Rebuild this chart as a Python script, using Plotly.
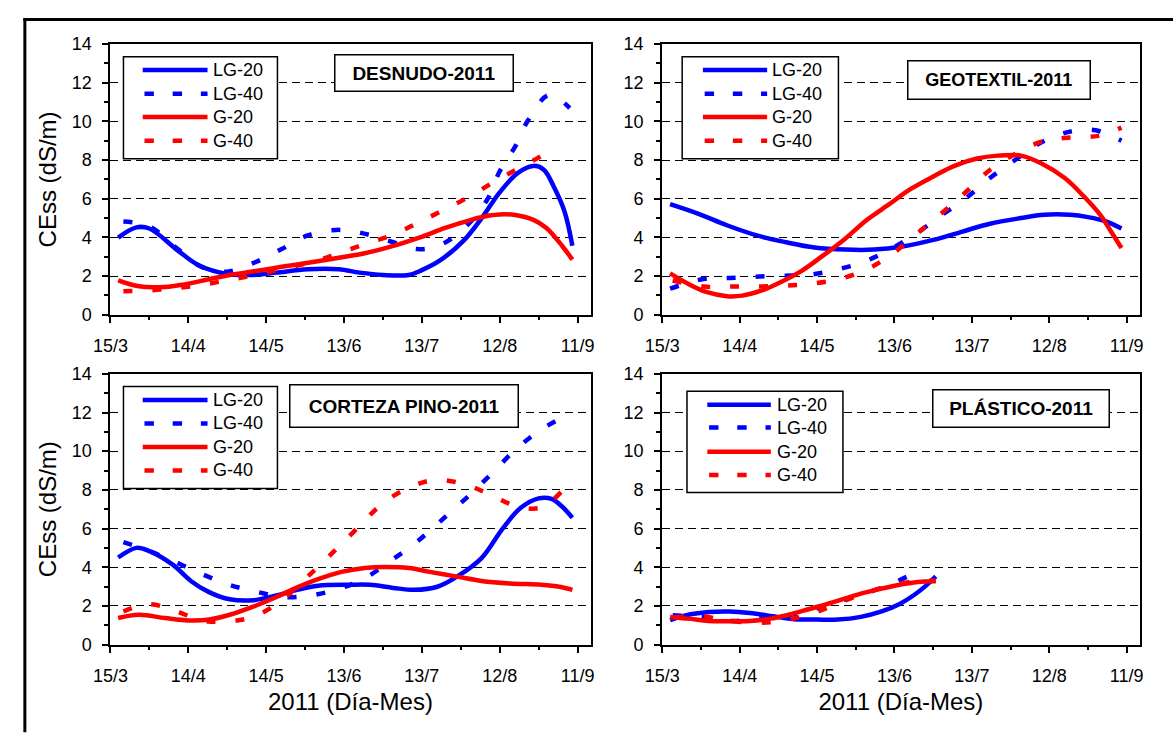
import pandas as pd
import plotly.graph_objects as go

BASE = pd.Timestamp("2011-03-15")

# ---- data: days after 15/3/2011 and CEss values (dS/m) ----
# DESNUDO-2011
des_lg20_d = [3, 10, 15, 26, 34, 45, 55, 64, 76, 88, 96, 105, 115, 120, 127, 136, 143, 150, 157, 163, 167, 171, 175, 178]
des_lg20_v = [3.99, 4.52, 4.46, 3.32, 2.56, 2.11, 2.06, 2.18, 2.35, 2.35, 2.18, 2.06, 2.06, 2.31, 2.81, 3.82, 4.99, 6.33, 7.34, 7.70, 7.50, 6.58, 5.33, 3.57]
des_lg40_d = [5, 15, 26, 35, 45, 56, 66, 76, 87, 97, 108, 118, 127, 137, 145, 150, 156, 161, 169, 177]
des_lg40_v = [4.82, 4.57, 3.40, 2.48, 2.23, 2.73, 3.40, 4.10, 4.39, 4.22, 3.79, 3.40, 3.60, 4.57, 5.91, 7.42, 8.71, 10.07, 11.36, 10.69]
des_g20_d = [3, 11, 21, 28, 38, 46, 56, 66, 78, 88, 98, 108, 119, 129, 139, 146, 150, 156, 163, 168, 174, 178]
des_g20_v = [1.78, 1.47, 1.44, 1.56, 1.84, 2.06, 2.26, 2.48, 2.73, 2.95, 3.18, 3.52, 3.99, 4.49, 4.91, 5.13, 5.19, 5.16, 4.91, 4.49, 3.57, 2.85]
des_g40_d = [5, 16, 26, 36, 46, 56, 67, 78, 88, 98, 109, 119, 129, 139, 149, 160, 171]
des_g40_v = [1.22, 1.27, 1.39, 1.56, 1.81, 2.06, 2.40, 2.73, 3.18, 3.65, 4.15, 4.79, 5.46, 6.16, 6.97, 7.76, 8.59]

# GEOTEXTIL-2011
geo_lg20_d = [3, 14, 25, 37, 48, 59, 71, 82, 93, 105, 116, 127, 139, 148, 158, 165, 172, 178]
geo_lg20_v = [5.72, 5.22, 4.63, 4.09, 3.75, 3.48, 3.37, 3.37, 3.53, 3.87, 4.29, 4.71, 5.00, 5.17, 5.17, 5.05, 4.83, 4.46]
geo_lg40_d = [3, 16, 26, 36, 47, 57, 67, 78, 88, 98, 108, 118, 127, 137, 147, 158, 168, 178]
geo_lg40_v = [1.35, 1.85, 1.90, 1.97, 2.02, 2.07, 2.32, 2.73, 3.37, 4.16, 5.13, 6.06, 7.07, 8.03, 8.92, 9.47, 9.54, 9.00]
geo_g20_d = [3, 10, 17, 25, 31, 38, 45, 54, 62, 71, 79, 88, 96, 105, 113, 122, 130, 139, 147, 156, 163, 170, 174, 178]
geo_g20_v = [2.14, 1.60, 1.18, 0.96, 0.99, 1.23, 1.63, 2.27, 3.03, 3.95, 4.88, 5.72, 6.48, 7.15, 7.69, 8.08, 8.23, 8.23, 7.82, 7.07, 6.18, 5.13, 4.29, 3.45]
geo_g40_d = [4, 16, 26, 36, 47, 57, 68, 78, 88, 98, 108, 118, 127, 137, 147, 158, 169, 178]
geo_g40_v = [1.77, 1.46, 1.46, 1.46, 1.50, 1.60, 1.83, 2.27, 3.03, 4.12, 5.22, 6.39, 7.49, 8.33, 8.95, 9.17, 9.25, 9.68]

# CORTEZA PINO-2011
cor_lg20_d = [3, 10, 15, 24, 31, 38, 46, 55, 64, 72, 80, 92, 100, 109, 117, 126, 134, 143, 151, 158, 165, 170, 174, 178]
cor_lg20_v = [4.50, 5.00, 4.83, 4.13, 3.29, 2.71, 2.34, 2.29, 2.54, 2.83, 3.04, 3.09, 3.09, 2.93, 2.83, 2.99, 3.55, 4.47, 5.97, 7.06, 7.56, 7.53, 7.14, 6.56]
cor_lg40_d = [5, 15, 26, 36, 46, 57, 66, 77, 88, 98, 108, 118, 127, 137, 147, 156, 166, 176]
cor_lg40_v = [5.30, 4.83, 4.21, 3.60, 3.08, 2.71, 2.46, 2.54, 2.88, 3.43, 4.33, 5.30, 6.36, 7.56, 8.85, 10.07, 11.12, 11.86]
cor_g20_d = [3, 11, 21, 30, 38, 46, 55, 64, 72, 80, 89, 98, 106, 115, 123, 134, 143, 154, 166, 173, 178]
cor_g20_v = [1.37, 1.54, 1.37, 1.25, 1.29, 1.54, 1.96, 2.46, 2.96, 3.38, 3.76, 3.96, 4.01, 3.96, 3.76, 3.50, 3.29, 3.16, 3.09, 2.99, 2.83]
cor_g40_d = [5, 15, 25, 35, 46, 56, 66, 76, 86, 95, 105, 115, 125, 136, 146, 156, 166, 176]
cor_g40_v = [1.71, 2.09, 1.74, 1.25, 1.20, 1.49, 2.29, 3.51, 4.80, 6.00, 7.31, 8.11, 8.51, 8.31, 7.78, 7.18, 7.09, 8.23]

# PLÁSTICO-2011
pla_lg20_d = [3, 9, 18, 26, 34, 43, 51, 60, 68, 77, 85, 92, 98, 102, 106]
pla_lg20_v = [1.26, 1.51, 1.68, 1.71, 1.63, 1.46, 1.31, 1.29, 1.29, 1.43, 1.71, 2.10, 2.60, 3.02, 3.52]
pla_lg40_d = [4, 15, 26, 37, 46, 57, 67, 77, 88, 99]
pla_lg40_v = [1.51, 1.43, 1.22, 1.34, 1.46, 1.76, 2.18, 2.57, 3.10, 3.77]
pla_g20_d = [3, 10, 18, 26, 34, 42, 49, 57, 66, 74, 82, 91, 99, 106]
pla_g20_v = [1.43, 1.34, 1.22, 1.21, 1.22, 1.34, 1.54, 1.84, 2.18, 2.52, 2.80, 3.07, 3.24, 3.27]
pla_g40_d = [5, 15, 25, 36, 46, 57, 67, 77, 88, 98, 106]
pla_g40_v = [1.39, 1.46, 1.26, 1.12, 1.22, 1.56, 2.06, 2.60, 3.02, 3.27, 3.30]

panel_titles = ["DESNUDO-2011", "GEOTEXTIL-2011", "CORTEZA PINO-2011", "PLÁSTICO-2011"]
series_names = ["LG-20", "LG-40", "G-20", "G-40"]
x_tick_labels_fmt = "%-d/%-m"

panels = [
    [(des_lg20_d, des_lg20_v), (des_lg40_d, des_lg40_v), (des_g20_d, des_g20_v), (des_g40_d, des_g40_v)],
    [(geo_lg20_d, geo_lg20_v), (geo_lg40_d, geo_lg40_v), (geo_g20_d, geo_g20_v), (geo_g40_d, geo_g40_v)],
    [(cor_lg20_d, cor_lg20_v), (cor_lg40_d, cor_lg40_v), (cor_g20_d, cor_g20_v), (cor_g40_d, cor_g40_v)],
    [(pla_lg20_d, pla_lg20_v), (pla_lg40_d, pla_lg40_v), (pla_g20_d, pla_g20_v), (pla_g40_d, pla_g40_v)],
]

# ---- styling ----
W, H = 1173, 735
FONT = "Arial, Liberation Sans, sans-serif"
BLUE, RED = "#0000FF", "#FF0000"
DASH = "9px,20px"
styles = [(BLUE, "solid"), (BLUE, DASH), (RED, "solid"), (RED, DASH)]


def px_x(p):
    return p / W


def px_y(p):
    return 1 - p / H


# plot areas in pixels (left, right, top, bottom)
areas = [(95, 584, 35, 313.3), (657, 1143, 35, 313.3), (95, 584, 374, 652.3), (657, 1143, 374, 652.3)]
# legend boxes (l, r, t, b), sample start/end, text x, item rows
legend_boxes = [
    (108.4, 265.2, 48, 153, 128, 194, 197.5, [61.7, 86, 110, 134.3]),
    (677.3, 836.4, 48, 153, 698.4, 763.8, 766.8, [61.7, 86, 110, 134.3]),
    (108.4, 265.2, 387, 492, 128, 194, 197.5, [401, 425, 449.3, 473.3]),
    (682.2, 841, 392, 496, 702.9, 767.6, 771.7, [405.7, 429.3, 454, 478]),
]
title_boxes = [(324.3, 504.1, 46, 84, 19), (908, 1091.5, 52, 92, 18), (278.4, 508.7, 385, 429, 19), (933.5, 1111.8, 390, 429, 19)]

fig = go.Figure()
layout = dict(width=W, height=H, margin=dict(l=0, r=0, t=0, b=0),
              paper_bgcolor="white", plot_bgcolor="white", showlegend=False,
              font=dict(family=FONT, color="black", size=18),
              annotations=[], shapes=[])

DAY_MS = 86400000
for i, series in enumerate(panels):
    n = "" if i == 0 else str(i + 1)
    xa, ya = "x" + n, "y" + n
    for (d, v), name, (col, dash) in zip(series, series_names, styles):
        dates = [BASE + pd.Timedelta(days=k) for k in d]
        fig.add_trace(go.Scatter(x=dates, y=v, name=name, mode="lines",
                                 line=dict(color=col, width=4.5, dash=dash, shape="spline", smoothing=1.0),
                                 xaxis=xa, yaxis=ya))
    l, r, t, b = areas[i]
    layout["xaxis" + n] = dict(
        domain=[px_x(l), px_x(r)], anchor=ya, type="date",
        range=[BASE - pd.Timedelta(hours=1), BASE + pd.Timedelta(days=185)],
        tickmode="linear", tick0=BASE, dtick=30 * DAY_MS, tickformat=x_tick_labels_fmt,
        ticks="outside", ticklen=6, tickwidth=1.5, tickcolor="black",
        minor=dict(ticks="outside", ticklen=3.5, tickwidth=1.5, tickcolor="black", dtick=15 * DAY_MS, tick0=BASE, showgrid=False),
        showline=True, mirror=True, linecolor="black", linewidth=2,
        showgrid=False, zeroline=False, ticklabelstandoff=8,
        tickfont=dict(size=18, family=FONT, color="black"),
        title=dict(text="2011 (Día-Mes)" if i >= 2 else "", font=dict(size=24, family=FONT), standoff=8),
    )
    layout["yaxis" + n] = dict(
        domain=[px_y(b), px_y(t)], anchor=xa, range=[0, 14],
        tickmode="linear", tick0=0, dtick=2,
        ticks="outside", ticklen=6, tickwidth=1.5, tickcolor="black",
        minor=dict(ticks="outside", ticklen=4, tickwidth=1.5, tickcolor="black", dtick=1, showgrid=False),
        showline=True, mirror=True, linecolor="black", linewidth=2,
        showgrid=True, gridcolor="black", gridwidth=1, griddash="8px,5px",
        zeroline=False, ticklabelstandoff=7,
        tickfont=dict(size=18, family=FONT, color="black"),
        title=dict(text="CEss (dS/m)" if i % 2 == 0 else "", font=dict(size=24, family=FONT), standoff=8),
    )

    # legend box drawn in paper coordinates
    bl, br, bt, bb, s0, s1, tx, rows = legend_boxes[i]
    layout["shapes"].append(dict(type="rect", xref="paper", yref="paper", layer="above",
                                 x0=px_x(bl), x1=px_x(br), y0=px_y(bb), y1=px_y(bt),
                                 fillcolor="white", line=dict(color="black", width=1.5)))
    for name, (col, dash), yy in zip(series_names, styles, rows):
        start = s0 if dash == "solid" else s0 + 1.8
        layout["shapes"].append(dict(type="line", xref="paper", yref="paper", layer="above",
                                     x0=px_x(start), x1=px_x(s1), y0=px_y(yy), y1=px_y(yy),
                                     line=dict(color=col, width=4.5, dash="solid" if dash == "solid" else "9.4px,18.8px")))
        layout["annotations"].append(dict(text=name, xref="paper", yref="paper", x=px_x(tx), y=px_y(yy),
                                          xanchor="left", yanchor="middle", showarrow=False,
                                          font=dict(size=18, family=FONT, color="black")))

    bl, br, bt, bb, fs = title_boxes[i]
    layout["annotations"].append(dict(
        text="<b>%s</b>" % panel_titles[i], xref="paper", yref="paper",
        x=px_x((bl + br) / 2), y=px_y((bt + bb) / 2), xanchor="center", yanchor="middle",
        showarrow=False, width=br - bl - 3, height=bb - bt - 3, borderpad=0,
        bordercolor="black", borderwidth=1.5, bgcolor="white",
        font=dict(size=fs, family=FONT, color="black")))

# outer frame (top and left edges visible)
layout["shapes"].append(dict(type="line", xref="paper", yref="paper", x0=px_x(6.5), x1=1.01,
                             y0=px_y(9.7), y1=px_y(9.7), line=dict(color="black", width=3)))
layout["shapes"].append(dict(type="line", xref="paper", yref="paper", x0=px_x(8), x1=px_x(8),
                             y0=px_y(8.3), y1=-0.01, line=dict(color="black", width=3)))

fig.update_layout(**layout)
fig.write_html("out.html", config={"displayModeBar": False},
               post_script="document.body.style.margin='0px';document.body.style.padding='0px';"
                           "document.documentElement.style.overflow='hidden';")
